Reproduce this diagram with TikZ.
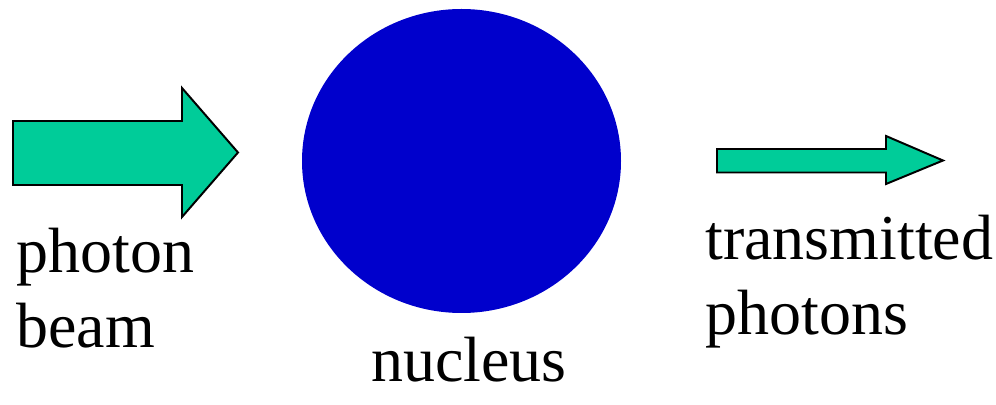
\documentclass[tikz,border=0pt]{standalone}
\usepackage{fontspec}
\setmainfont{Liberation Serif}
\usepackage{tikz}
\usetikzlibrary{positioning,calc}
\definecolor{BeamGreen}{RGB}{0,204,153}
\definecolor{NucBlue}{RGB}{0,0,204}
\tikzset{
  blockarrow/.style={draw=black,fill=BeamGreen,line width=1.4pt,line join=miter},
  nuc/.style={fill=NucBlue,draw=none},
  lbl/.style={inner sep=0pt,align=left,font=\fontsize{45.5}{53.4}\selectfont},
}

\begin{document}
\begin{tikzpicture}[x=0.025cm,y=-0.025cm]
\useasboundingbox (0,0) rectangle (996,405);
% incoming beam
\draw[blockarrow] (13,121)--(182,121)--(182,88)--(238,152.5)--(182,217)
  --(182,185)--(13,185)--cycle;
% nucleus
\coordinate (c) at (461.5,161);
\fill[nuc] (c) ellipse [x radius=159.5, y radius=152];
% outgoing photons
\draw[blockarrow] (717,149)--(886,149)--(886,136)--(943,160.5)--(886,184)
  --(886,172.5)--(717,172.5)--cycle;
\node[lbl,anchor=base west] (beam) at (16,348) {photon\\beam};
\node[lbl,anchor=base west] (nucleus) at (371,382) {nucleus};
\node[lbl,anchor=base west] (out) at (705,335) {transmitted\\photons};
\end{tikzpicture}
\end{document}
